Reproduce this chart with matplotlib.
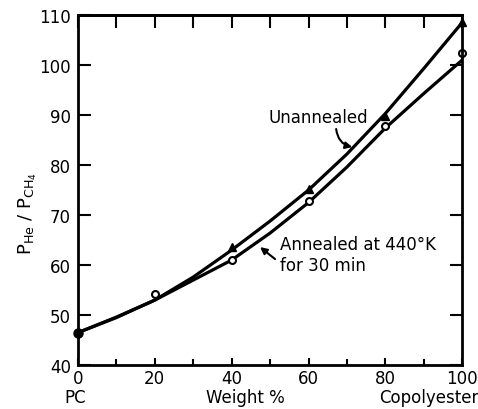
import matplotlib
matplotlib.use('Agg')
import matplotlib.pyplot as plt

# curve values (every 10 wt%)
curve_x = [0, 10, 20, 30, 40, 50, 60, 70, 80, 90, 100]
unannealed_curve = [46.5, 49.6, 53.0, 57.6, 63.0, 68.8, 75.0, 82.2, 90.3, 99.3, 108.5]
annealed_curve = [46.5, 49.5, 53.0, 57.0, 61.0, 66.4, 72.5, 79.6, 87.4, 94.3, 101.0]

# measured points
tri_x = [40, 60, 80, 100]
tri_y = [63.7, 75.2, 89.8, 108.5]
circ_x = [20, 40, 60, 80, 100]
circ_y = [54.3, 61.0, 72.8, 87.9, 102.5]
pc_x = [0]
pc_y = [46.5]

xticks = [0, 20, 40, 60, 80, 100]
yticks = [40, 50, 60, 70, 80, 90, 100, 110]
top_ticks = list(range(0, 101, 10))


def main():
    fig = plt.figure(figsize=(4.78, 4.10), dpi=100)
    ax = fig.add_axes([0.163, 0.107, 0.804, 0.854])

    ax.plot(curve_x, unannealed_curve, color='black', lw=2.3, solid_capstyle='round')
    ax.plot(curve_x, annealed_curve, color='black', lw=2.3, solid_capstyle='round')

    ax.plot(tri_x, tri_y, '^', color='black', ms=6, clip_on=False)
    ax.plot(circ_x, circ_y, 'o', mfc='white', mec='black', mew=1.5, ms=5, clip_on=False)
    ax.plot(pc_x, pc_y, 'o', color='black', ms=6.5, clip_on=False)

    ax.set_xlim(0, 100)
    ax.set_ylim(40, 110)
    ax.set_xticks(xticks)
    ax.set_yticks(yticks)
    ax.set_xticks(range(10, 100, 20), minor=True)
    ax.tick_params(axis='y', which='major', direction='in', labelsize=12,
                   width=1.5, length=9, right=True, pad=5)
    ax.tick_params(axis='x', which='major', direction='in', labelsize=12,
                   width=1.5, length=5, top=False, pad=3)
    ax.tick_params(axis='x', which='minor', direction='in', width=1.5,
                   length=4, top=False)
    for s in ax.spines.values():
        s.set_linewidth(2)

    top = ax.secondary_xaxis('top')
    top.set_xticks(top_ticks)
    top.tick_params(direction='in', length=9, width=1.5, labeltop=False)
    top.spines['top'].set_linewidth(2)

    ax.set_ylabel(r'$\mathsf{P_{He}\ /\ P_{CH_4}}$', fontsize=13)
    ax.yaxis.set_label_coords(-0.10, 0.437)
    ax.text(43.5, -0.0914, 'Weight %', transform=ax.get_xaxis_transform(),
            ha='center', va='center', fontsize=12)
    ax.text(-0.8, -0.0914, 'PC', transform=ax.get_xaxis_transform(),
            ha='center', va='center', fontsize=12)
    ax.text(104.2, -0.0914, 'Copolyester', transform=ax.get_xaxis_transform(),
            ha='right', va='center', fontsize=12, clip_on=False)

    ax.text(49.5, 89.6, 'Unannealed', fontsize=12, va='center', ha='left')
    ax.annotate('', xy=(71.4, 83.6), xytext=(67.2, 87.2),
                arrowprops=dict(arrowstyle='-|>', color='black', lw=1.5,
                                connectionstyle='arc3,rad=0.35',
                                shrinkA=0, shrinkB=0))
    ax.text(52.6, 62.1, 'Annealed at 440°K\nfor 30 min', fontsize=12,
            va='center', ha='left', linespacing=1.25)
    ax.annotate('', xy=(47.4, 63.6), xytext=(51.3, 61.2),
                arrowprops=dict(arrowstyle='-|>', color='black', lw=1.5,
                                shrinkA=0, shrinkB=0))

    plt.savefig('out.png', dpi=100)


if __name__ == '__main__':
    main()
